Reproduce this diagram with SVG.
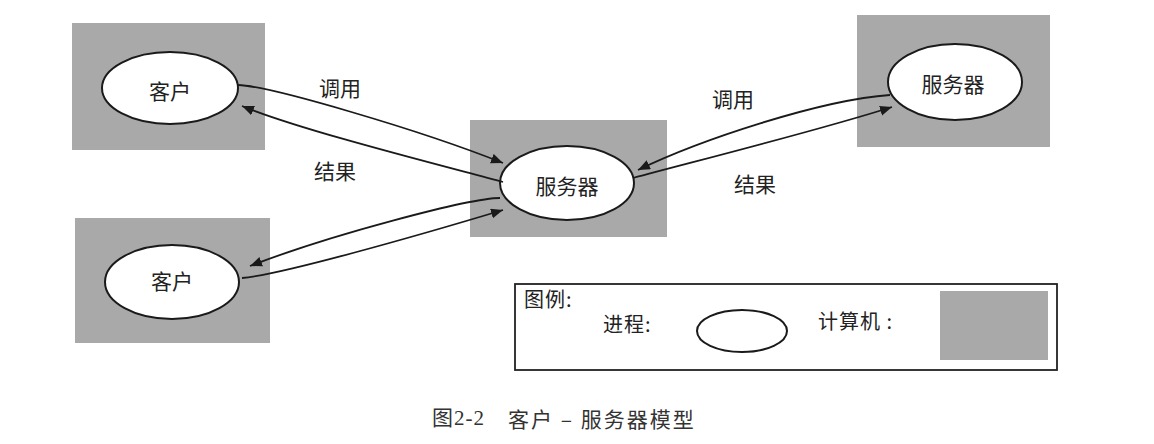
<svg xmlns="http://www.w3.org/2000/svg" width="1154" height="444" viewBox="0 0 1154 444">
<style>
.bg{fill:#ffffff}
.comp{fill:#a9a9a9}
.proc{fill:#ffffff;stroke:#1a1a1a;stroke-width:2}
.t{font-family:"Noto Sans CJK SC","Noto Sans",sans-serif;font-size:21px;fill:#222;text-anchor:middle;dominant-baseline:central}
.ts{font-family:"Noto Sans CJK SC","Noto Sans",sans-serif;font-size:20px;fill:#222;dominant-baseline:central;letter-spacing:1px}
.cap{font-family:"Liberation Serif","Noto Sans CJK SC",serif;font-size:21px;fill:#333;dominant-baseline:central;letter-spacing:1px}
.capc{font-family:"Noto Sans CJK SC",sans-serif;font-size:21px;fill:#333;dominant-baseline:central;letter-spacing:2px}
.conn{fill:none;stroke:#1a1a1a;stroke-width:1.8;marker-end:url(#ah)}
</style>
<defs>
<marker id="ah" markerUnits="userSpaceOnUse" markerWidth="14" markerHeight="12" refX="12" refY="5" orient="auto">
<path d="M0,0 L12,5 L0,10 z" fill="#1a1a1a"/>
</marker>
</defs>
<rect class="bg" x="0" y="0" width="1154" height="444"/>

<g id="client1">
<rect class="comp" x="72" y="23" width="193" height="127"/>
<ellipse class="proc" cx="170" cy="88" rx="68" ry="36"/>
<text class="t" x="170" y="90">客户</text>
</g>

<g id="client2">
<rect class="comp" x="75" y="218" width="195" height="125"/>
<ellipse class="proc" cx="172" cy="282" rx="67" ry="37"/>
<text class="t" x="172" y="280">客户</text>
</g>

<g id="server-center">
<rect class="comp" x="470" y="120" width="197" height="117"/>
<ellipse class="proc" cx="567" cy="183" rx="67" ry="37"/>
<text class="t" x="567" y="185">服务器</text>
</g>

<g id="server-right">
<rect class="comp" x="857" y="15" width="193" height="132"/>
<ellipse class="proc" cx="955" cy="82" rx="67" ry="38"/>
<text class="t" x="953" y="83">服务器</text>
</g>

<g id="connectors">
<path class="conn" d="M238,85 C270,86 420,130 503,163"/>
<path class="conn" d="M503,182 C440,165 300,130 242,106"/>
<path class="conn" d="M500,198 C470,198 330,235 250,266"/>
<path class="conn" d="M242,278 C280,275 420,235 503,210"/>
<path class="conn" d="M890,95 C820,100 700,140 638,170"/>
<path class="conn" d="M633,178 C700,160 820,130 892,107"/>
</g>

<g id="labels">
<text class="t" x="340" y="87">调用</text>
<text class="t" x="335" y="170">结果</text>
<text class="t" x="733" y="98">调用</text>
<text class="t" x="755" y="183">结果</text>
</g>

<g id="legend">
<rect x="515" y="284" width="542" height="86" fill="#ffffff" stroke="#222" stroke-width="1.8"/>
<text class="ts" x="524" y="298">图例:</text>
<text class="ts" x="603" y="323">进程:</text>
<ellipse class="proc" cx="742" cy="331" rx="45" ry="21"/>
<text class="ts" x="818" y="320">计算机 :</text>
<rect class="comp" x="940" y="291" width="108" height="69"/>
</g>

<g id="caption">
<text class="cap" x="432" y="418">图2-2</text>
<text class="capc" x="508" y="418">客户 – 服务器模型</text>
</g>
</svg>
